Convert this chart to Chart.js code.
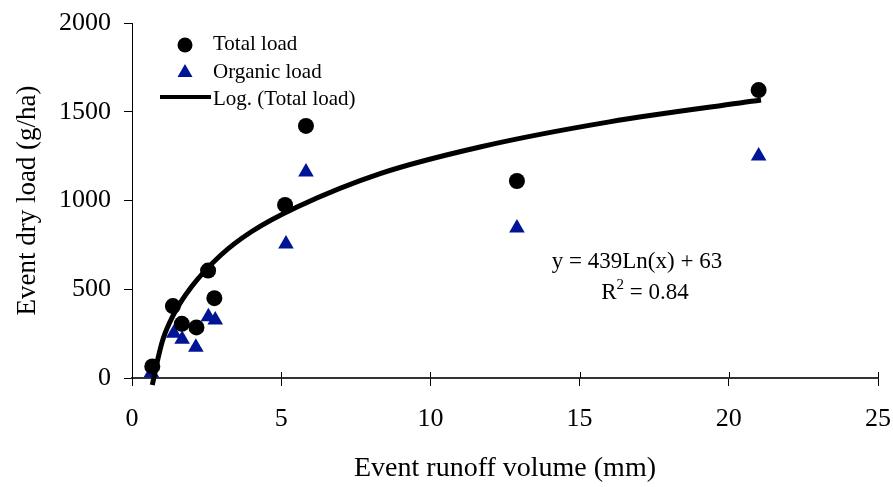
<!DOCTYPE html>
<html><head><meta charset="utf-8">
<script src="https://cdn.jsdelivr.net/npm/chart.js@4/dist/chart.umd.min.js"></script>
<style>html,body{margin:0;padding:0;background:#fff}#wrap{width:893px;height:487px}</style>
</head><body><div id="wrap"><canvas id="c" width="893" height="487"></canvas></div>
<script>
// ---- data ----
const runoffTotal   = [0.68, 1.37, 1.67, 2.16, 2.55, 2.76, 5.13, 5.83, 12.9, 21.0];
const totalLoad     = [65, 405, 305, 285, 605, 450, 975, 1420, 1110, 1622];
const runoffOrganic = [0.65, 1.40, 1.68, 2.14, 2.56, 2.79, 5.16, 5.83, 12.9, 21.0];
const organicLoad   = [30, 252, 218, 173, 345, 327, 755, 1160, 845, 1251];
// points
const trendX = [0.68, 0.85, 1.03, 1.37, 2.0, 2.98, 4.0, 5.55, 8.34, 11.7, 16.0, 21.08];
const trendY = [-40, 95, 214, 350, 515, 693, 824, 965, 1153, 1303, 1443, 1566];
const xTicks = [0, 5, 10, 15, 20, 25];
const yTicks = [0, 500, 1000, 1500, 2000];
const seriesNames = ['Total load', 'Organic load', 'Log. (Total load)'];
const eqLine1 = 'y = 439Ln(x) + 63';
const eqR = 'R', eqSup = '2', eqRest = ' = 0.84';
const xTitle = 'Event runoff volume (mm)';
const yTitle = 'Event dry load (g/ha)';

const FONT = "'Liberation Serif', 'Times New Roman', serif";
const NAVY = '#001496';

const toPts = (xs, ys) => xs.map((x, i) => ({x, y: ys[i]}));

const innerTicks = {
  id: 'innerTicks',
  afterDraw(chart) {
    const {ctx, chartArea} = chart;
    const xs = chart.scales.x;
    ctx.save();
    ctx.strokeStyle = '#000'; ctx.lineWidth = 1;
    xTicks.forEach(v => {
      const px = Math.round(xs.getPixelForValue(v)) + 0.5;
      ctx.beginPath(); ctx.moveTo(px, chartArea.bottom - 6); ctx.lineTo(px, chartArea.bottom); ctx.stroke();
    });
    ctx.restore();
  }
};

const legendAndText = {
  id: 'legendAndText',
  afterDraw(chart) {
    const ctx = chart.ctx;
    const ds = chart.data.datasets;
    ctx.save();
    ctx.font = '21px ' + FONT;
    ctx.fillStyle = '#000';
    ctx.textBaseline = 'middle';
    ctx.textAlign = 'left';
    ctx.beginPath(); ctx.arc(185, 45, 7.5, 0, Math.PI * 2); ctx.fillStyle = ds[0].backgroundColor; ctx.fill();
    ctx.fillStyle = '#000'; ctx.fillText(ds[0].label, 213, 44);
    ctx.beginPath(); ctx.moveTo(185, 64); ctx.lineTo(192.5, 77); ctx.lineTo(177.5, 77); ctx.closePath();
    ctx.fillStyle = ds[1].backgroundColor; ctx.fill();
    ctx.fillStyle = '#000'; ctx.fillText(ds[1].label, 213, 72);
    ctx.strokeStyle = ds[2].borderColor; ctx.lineWidth = 4;
    ctx.beginPath(); ctx.moveTo(160, 97); ctx.lineTo(211, 97); ctx.stroke();
    ctx.fillText(ds[2].label, 213, 99);
    ctx.font = '23px ' + FONT;
    ctx.textAlign = 'center';
    ctx.fillText(eqLine1, 637, 262);
    ctx.textAlign = 'left';
    const wR = ctx.measureText(eqR).width;
    const wRest = ctx.measureText(eqRest).width;
    ctx.font = '15px ' + FONT;
    const wS = ctx.measureText(eqSup).width;
    const total = wR + wS + wRest;
    const x0 = 645 - total / 2;
    ctx.font = '23px ' + FONT;
    ctx.fillText(eqR, x0, 293);
    ctx.font = '15px ' + FONT;
    ctx.fillText(eqSup, x0 + wR, 285);
    ctx.font = '23px ' + FONT;
    ctx.fillText(eqRest, x0 + wR + wS, 293);
    ctx.restore();
  }
};

new Chart(document.getElementById('c'), {
  type: 'scatter',
  data: {
    datasets: [
      { label: seriesNames[0], data: toPts(runoffTotal, totalLoad), pointStyle: 'circle', pointRadius: 8,
        backgroundColor: '#000', borderColor: '#000', borderWidth: 0, order: 1 },
      { label: seriesNames[1], data: toPts(runoffOrganic, organicLoad), pointStyle: 'triangle', pointRadius: 9,
        backgroundColor: NAVY, borderColor: NAVY, borderWidth: 0, order: 2 },
      { label: seriesNames[2], data: toPts(trendX, trendY), showLine: true, pointRadius: 0,
        borderColor: '#000', backgroundColor: '#000', borderWidth: 5, cubicInterpolationMode: 'monotone',
        clip: false, order: 0 }
    ]
  },
  options: {
    responsive: false, animation: false, devicePixelRatio: 1,
    layout: { padding: { left: 0, right: 15, top: 23, bottom: 0 } },
    plugins: { legend: { display: false }, tooltip: { enabled: false } },
    scales: {
      x: {
        type: 'linear', min: 0, max: 25,
        afterBuildTicks: s => { s.ticks = xTicks.map(v => ({value: v})); },
        afterFit: s => { s.height = 109; s.paddingLeft = 0; s.paddingRight = 0; },
        border: { display: true, color: '#333', width: 2 },
        grid: { drawOnChartArea: false, drawTicks: true, tickLength: 8, color: '#000' },
        ticks: { font: { family: FONT, size: 26 }, color: '#000', padding: 18, maxRotation: 0,
                 callback: v => String(v) },
        title: { display: true, text: xTitle, font: { family: FONT, size: 28 }, color: '#000', padding: { top: 0, bottom: 2 } }
      },
      y: {
        type: 'linear', min: 0, max: 2000,
        afterBuildTicks: s => { s.ticks = yTicks.map(v => ({value: v})); },
        afterFit: s => { s.width = 132; s.paddingTop = 0; s.paddingBottom = 0; },
        border: { display: true, color: '#000', width: 1 },
        grid: { drawOnChartArea: false, drawTicks: true, tickLength: 8, color: '#000' },
        ticks: { font: { family: FONT, size: 26 }, color: '#000', padding: 13, callback: v => String(v) },
        title: { display: true, text: yTitle, font: { family: FONT, size: 27 }, color: '#000', padding: { top: 12, bottom: 0 } }
      }
    }
  },
  plugins: [innerTicks, legendAndText]
});
</script>
</body></html>
